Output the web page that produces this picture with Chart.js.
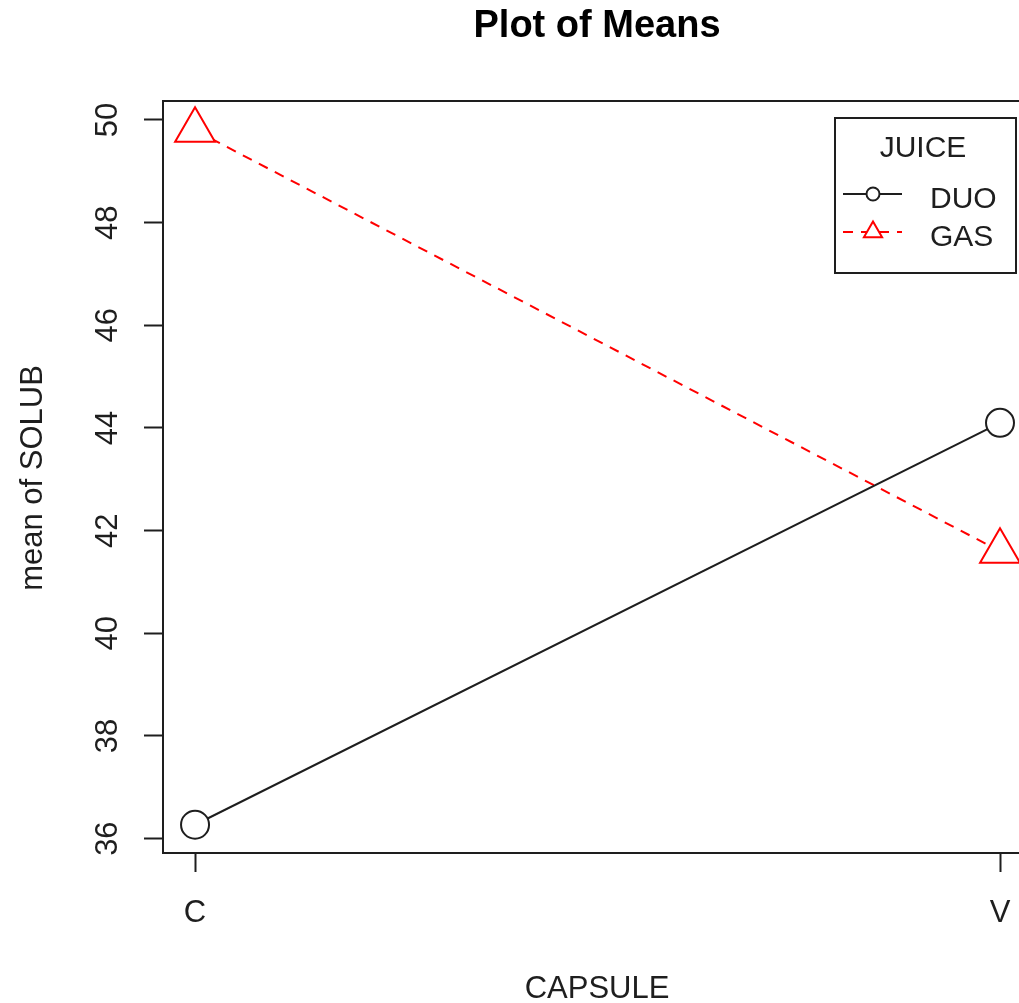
<!DOCTYPE html>
<html>
<head>
<meta charset="utf-8">
<script src="https://cdn.jsdelivr.net/npm/chart.js@4"></script>
<style>
  html, body { margin: 0; padding: 0; background: #fff; }
  #wrap { width: 1019px; height: 1003px; }
</style>
</head>
<body>
<div id="wrap"><canvas id="myChart"></canvas></div>
<script>
const capsules = ['C', 'V'];
const duoMeans = [36.27, 44.10];
const gasMeans = [49.80, 41.60];
const yTicks = [36, 38, 40, 42, 44, 46, 48, 50];

const ink = '#1e1e1e';
const FONT = '"Liberation Sans", Arial, sans-serif';

// R-style frame, labels and legend
const rPlot = {
    id: 'rPlot',
    afterDraw(chart) {
        const ctx = chart.ctx;
        const a = chart.chartArea;
        const xs = chart.scales.x, ys = chart.scales.y;
        ctx.save();
        ctx.strokeStyle = ink;
        ctx.lineWidth = 2;
        ctx.strokeRect(a.left, a.top, a.right - a.left + 20, a.bottom - a.top);

        ctx.fillStyle = '#000';
        ctx.textAlign = 'center';
        ctx.textBaseline = 'alphabetic';
        ctx.font = 'bold 38px ' + FONT;
        ctx.fillText('Plot of Means', 597, 37);

        ctx.fillStyle = ink;
        ctx.font = '31px ' + FONT;
        ctx.fillText('CAPSULE', 597, 998);
        capsules.forEach((c, i) => {
            ctx.fillText(c, xs.getPixelForValue(i + 1), 922);
        });
        yTicks.forEach(v => {
            ctx.save();
            ctx.translate(117, ys.getPixelForValue(v));
            ctx.rotate(-Math.PI / 2);
            ctx.fillText(String(v), 0, 0);
            ctx.restore();
        });
        ctx.save();
        ctx.translate(42, 478);
        ctx.rotate(-Math.PI / 2);
        ctx.fillText('mean of SOLUB', 0, 0);
        ctx.restore();

        // legend
        ctx.font = '30px ' + FONT;
        ctx.lineWidth = 2;
        ctx.strokeRect(835, 118, 181, 155);
        ctx.fillText('JUICE', 923, 157);
        ctx.textAlign = 'left';
        ctx.fillText('DUO', 930, 208);
        ctx.fillText('GAS', 930, 246);

        ctx.strokeStyle = ink;
        ctx.beginPath(); ctx.moveTo(843, 194); ctx.lineTo(902, 194); ctx.stroke();
        ctx.fillStyle = '#fff';
        ctx.beginPath(); ctx.arc(873, 194, 6.5, 0, Math.PI * 2); ctx.fill(); ctx.stroke();

        ctx.strokeStyle = '#ff0000';
        ctx.setLineDash([10, 8]);
        ctx.beginPath(); ctx.moveTo(843, 232); ctx.lineTo(902, 232); ctx.stroke();
        ctx.setLineDash([]);
        const r = 10.5;
        ctx.beginPath();
        for (let k = 0; k < 3; k++) {
            const ang = k * 2 * Math.PI / 3;
            const px = 873 + Math.sin(ang) * r, py = 232 - Math.cos(ang) * r;
            k ? ctx.lineTo(px, py) : ctx.moveTo(px, py);
        }
        ctx.closePath(); ctx.fill(); ctx.stroke();
        ctx.restore();
    }
};

const ctx = document.getElementById('myChart');

new Chart(ctx, {
    type: 'line',
    data: {
        datasets: [
            {
                label: 'DUO',
                data: duoMeans.map((v, i) => ({ x: i + 1, y: v })),
                borderColor: ink,
                borderWidth: 2,
                pointStyle: 'circle',
                pointRadius: 14,
                pointBorderWidth: 2,
                pointBackgroundColor: '#fff',
                pointBorderColor: ink,
            },
            {
                label: 'GAS',
                data: gasMeans.map((v, i) => ({ x: i + 1, y: v })),
                borderColor: '#ff0000',
                borderWidth: 2,
                borderDash: [10, 8],
                pointStyle: 'triangle',
                pointRadius: 23,
                pointBorderWidth: 2,
                pointBackgroundColor: '#fff',
                pointBorderColor: '#ff0000',
            },
        ]
    },
    options: {
        responsive: true,
        maintainAspectRatio: false,
        animation: false,
        clip: false,
        layout: { autoPadding: false, padding: { left: 144, top: 101, right: 0, bottom: 131 } },
        plugins: { legend: { display: false }, tooltip: { enabled: false } },
        scales: {
            x: {
                type: 'linear',
                min: 0.9602,
                max: 2.0236,
                afterBuildTicks: s => { s.ticks = capsules.map((c, i) => ({ value: i + 1 })); },
                ticks: { display: false },
                grid: { drawOnChartArea: false, tickLength: 19, tickColor: ink, tickWidth: 2 },
                border: { display: false },
            },
            y: {
                min: 35.72,
                max: 50.37,
                afterBuildTicks: s => { s.ticks = yTicks.map(v => ({ value: v })); },
                ticks: { display: false },
                grid: { drawOnChartArea: false, tickLength: 19, tickColor: ink, tickWidth: 2 },
                border: { display: false },
            }
        }
    },
    plugins: [rPlot]
});
</script>
</body>
</html>
